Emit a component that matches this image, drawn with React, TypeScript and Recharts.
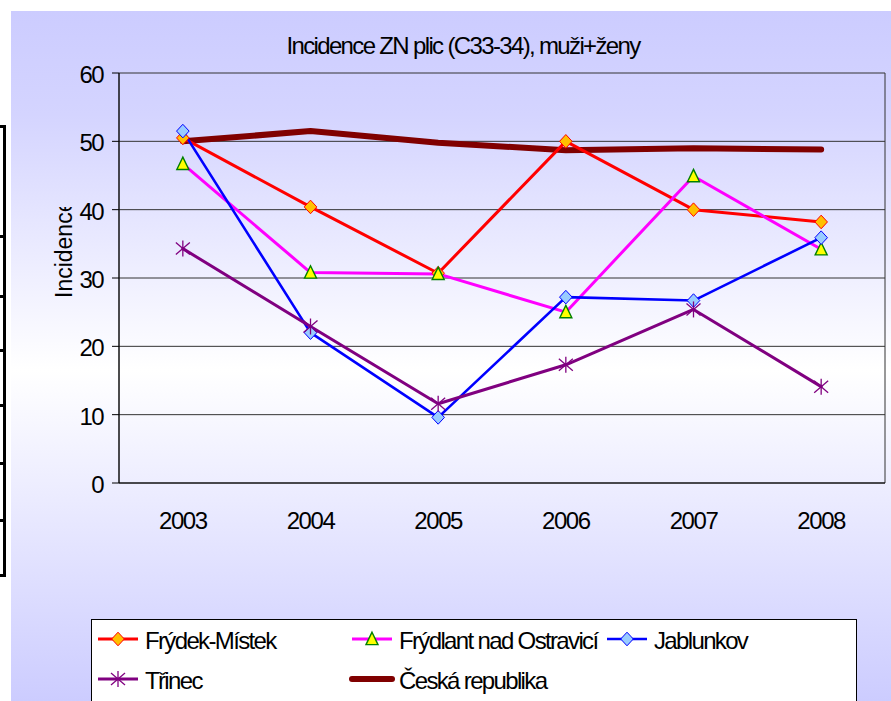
import React from 'react';
import { LineChart, Line, XAxis, YAxis, CartesianGrid, Legend } from 'recharts';

const years = ['2003', '2004', '2005', '2006', '2007', '2008'];
const frydekMistek = [50.5, 40.4, 30.7, 50.0, 40.0, 38.2];
const frydlant = [46.7, 30.8, 30.6, 25.0, 44.9, 34.2];
const jablunkov = [51.5, 22.0, 9.6, 27.2, 26.7, 35.9];
const trinec = [34.3, 22.9, 11.6, 17.3, 25.4, 14.1];
const ceskaRepublika = [50.0, 51.5, 49.8, 48.7, 49.0, 48.8];

const yTicks = [0, 10, 20, 30, 40, 50, 60];
const categoryBoundaries = [0, 1, 2, 3, 4, 5, 6];

const titleText = 'Incidence ZN plic (C33-34), muži+ženy';
const yLabelText = 'Incidence';

const data = years.map((year, i) => ({
  year,
  fm: frydekMistek[i],
  fo: frydlant[i],
  jb: jablunkov[i],
  tr: trinec[i],
  cr: ceskaRepublika[i],
}));

const FONT = '"Liberation Sans", Arial, Helvetica, sans-serif';

type MarkerKind = 'diamondOrange' | 'triangle' | 'diamondBlue' | 'star' | 'none';

const drawMarker = (kind: MarkerKind, cx: number, cy: number) => {
  if (kind === 'diamondOrange') {
    return (
      <path
        d={`M${cx},${cy - 6.8}L${cx + 6.3},${cy}L${cx},${cy + 6.8}L${cx - 6.3},${cy}Z`}
        fill="#ffc000"
        stroke="#ff0000"
        strokeWidth={1}
      />
    );
  }
  if (kind === 'diamondBlue') {
    return (
      <path
        d={`M${cx},${cy - 6.8}L${cx + 6.3},${cy}L${cx},${cy + 6.8}L${cx - 6.3},${cy}Z`}
        fill="#99ccff"
        stroke="#0000ff"
        strokeWidth={1}
      />
    );
  }
  if (kind === 'triangle') {
    return (
      <path
        d={`M${cx},${cy - 6.8}L${cx + 6},${cy + 5.6}L${cx - 6},${cy + 5.6}Z`}
        fill="#ffff00"
        stroke="#008000"
        strokeWidth={1.4}
        strokeLinejoin="miter"
      />
    );
  }
  if (kind === 'star') {
    return (
      <g stroke="#800080" strokeWidth={1.3}>
        <line x1={cx} y1={cy - 8} x2={cx} y2={cy + 8} />
        <line x1={cx - 7} y1={cy - 6} x2={cx + 7} y2={cy + 6} />
        <line x1={cx - 7} y1={cy + 6} x2={cx + 7} y2={cy - 6} />
      </g>
    );
  }
  return null;
};

const series: { key: string; name: string; color: string; width: number; marker: MarkerKind }[] = [
  { key: 'fm', name: 'Frýdek-Místek', color: '#ff0000', width: 3, marker: 'diamondOrange' },
  { key: 'fo', name: 'Frýdlant nad Ostravicí', color: '#ff00ff', width: 3, marker: 'triangle' },
  { key: 'jb', name: 'Jablunkov', color: '#0000ff', width: 2.6, marker: 'diamondBlue' },
  { key: 'tr', name: 'Třinec', color: '#800080', width: 3, marker: 'star' },
  { key: 'cr', name: 'Česká republika', color: '#800000', width: 6, marker: 'none' },
];

const makeDot = (kind: MarkerKind) => (props: any) => {
  const { cx, cy, index } = props;
  if (cx == null || cy == null) return <g key={`d-${index}`} />;
  return <g key={`d-${kind}-${index}`}>{drawMarker(kind, cx, cy)}</g>;
};

const XTick = (props: any) => {
  const { x, y, payload } = props;
  return (
    <text
      x={x}
      y={y + 46}
      textAnchor="middle"
      fontSize={24}
      fontFamily={FONT}
      letterSpacing={-1.45}
      fill="#000"
    >
      {payload.value}
    </text>
  );
};

const YTick = (props: any) => {
  const { x, y, payload } = props;
  return (
    <text
      x={x + 1}
      y={y + 10}
      textAnchor="end"
      fontSize={24}
      fontFamily={FONT}
      letterSpacing={-1.6}
      fill="#000"
    >
      {payload.value}
    </text>
  );
};

const YLabel = (props: any) => {
  const vb = props.viewBox || { x: 59, y: 73, width: 60, height: 410 };
  const tx = vb.x + 13;
  const ty = vb.y + 225;
  const clipTop = vb.y + 134;
  return (
    <g clipPath="url(#ylabel-clip)">
      <defs>
        <clipPath id="ylabel-clip">
          <rect x={vb.x - 40} y={clipTop} width={80} height={400} />
        </clipPath>
      </defs>
      <text
        x={tx}
        y={ty}
        transform={`rotate(-90 ${tx} ${ty})`}
        fontSize={23}
        fontFamily={FONT}
        fill="#000"
      >
        {yLabelText}
      </text>
    </g>
  );
};

const legendColumns = [7, 261, 516];
const legendRows = [5, 45];

const renderLegend = (props: any) => {
  const payload: any[] = props.payload || [];
  const items = series
    .map((s) => ({ s, p: payload.find((p) => p.dataKey === s.key) }))
    .filter((it) => it.p);
  return (
    <div
      style={{
        width: 766,
        height: 90,
        border: '1px solid #000',
        background: '#fff',
        position: 'relative',
        boxSizing: 'border-box',
      }}
    >
      {items.map(({ s, p }, i) => {
        const col = i % 3;
        const row = Math.floor(i / 3);
        return (
          <svg
            key={s.key}
            width={255}
            height={32}
            style={{ position: 'absolute', left: legendColumns[col] - 1, top: legendRows[row] - 1, overflow: 'visible' }}
          >
            <line
              x1={0}
              y1={15}
              x2={40}
              y2={15}
              stroke={p.color || s.color}
              strokeWidth={s.width}
              strokeLinecap={s.marker === 'none' ? 'round' : 'butt'}
            />
            {drawMarker(s.marker, 20, 15)}
            <text x={47} y={25} fontSize={24} fontFamily={FONT} letterSpacing={-1.65} fill="#000">
              {p.value}
            </text>
          </svg>
        );
      })}
    </div>
  );
};

const bracketTicks = [125, 235, 295, 349, 404, 462, 519, 574];

export default function App() {
  const drawOrder = ['cr', 'fm', 'fo', 'jb', 'tr'];
  return (
    <div
      style={{
        position: 'absolute',
        left: 0,
        top: 0,
        width: 891,
        height: 701,
        overflow: 'hidden',
        background: '#fff',
        fontFamily: FONT,
      }}
    >
      <div
        style={{
          position: 'absolute',
          left: 11,
          top: 11,
          width: 880,
          height: 690,
          background: 'linear-gradient(to bottom, #ccccff 0%, #d4d4ff 15%, #ffffff 52%, #ccccff 100%)',
        }}
      />
      <div style={{ position: 'absolute', left: 3, top: 125, width: 3, height: 452, background: '#000' }} />
      {bracketTicks.map((t) => (
        <div key={t} style={{ position: 'absolute', left: 0, top: t, width: 6, height: 3, background: '#000' }} />
      ))}
      <div
        style={{
          position: 'absolute',
          left: 213,
          top: 34,
          width: 500,
          textAlign: 'center',
          fontSize: 24,
          lineHeight: '24px',
          letterSpacing: -1.65,
          color: '#000',
          whiteSpace: 'nowrap',
        }}
      >
        {titleText}
      </div>
      <div style={{ position: 'absolute', left: 0, top: 0 }}>
        <LineChart
          width={891}
          height={701}
          data={data}
          margin={{ top: 73, right: 6, left: 59, bottom: 178 }}
        >
          <XAxis
            xAxisId="b"
            type="number"
            domain={[0, 6]}
            ticks={categoryBoundaries}
            interval={0}
            height={0}
            tick={false}
            tickSize={8}
            tickLine={{ stroke: '#000', strokeWidth: 1 }}
            axisLine={false}
            allowDataOverflow
          />
          <CartesianGrid xAxisId="b" stroke="#333" strokeWidth={1} />
          <XAxis
            dataKey="year"
            scale="band"
            interval={0}
            height={40}
            tickLine={false}
            tickSize={0}
            tickMargin={0}
            axisLine={{ stroke: '#000', strokeWidth: 1 }}
            tick={<XTick />}
          />
          <YAxis
            domain={[0, 60]}
            ticks={yTicks}
            interval={0}
            width={60}
            tickSize={7}
            tickMargin={10}
            axisLine={{ stroke: '#000', strokeWidth: 1 }}
            tickLine={{ stroke: '#000', strokeWidth: 1 }}
            tick={<YTick />}
            label={YLabel}
          />
          {drawOrder.map((k) => {
            const s = series.find((x) => x.key === k)!;
            return (
              <Line
                key={s.key}
                type="linear"
                dataKey={s.key}
                name={s.name}
                stroke={s.color}
                strokeWidth={s.width}
                strokeLinecap="round"
                strokeLinejoin="round"
                dot={s.marker === 'none' ? false : makeDot(s.marker)}
                activeDot={false}
                isAnimationActive={false}
              />
            );
          })}
          <Legend
            layout="horizontal"
            verticalAlign="middle"
            align="center"
            content={renderLegend}
            wrapperStyle={{ position: 'absolute', left: 91, top: 619, width: 766, height: 90, margin: 0, padding: 0 }}
          />
        </LineChart>
      </div>
    </div>
  );
}
